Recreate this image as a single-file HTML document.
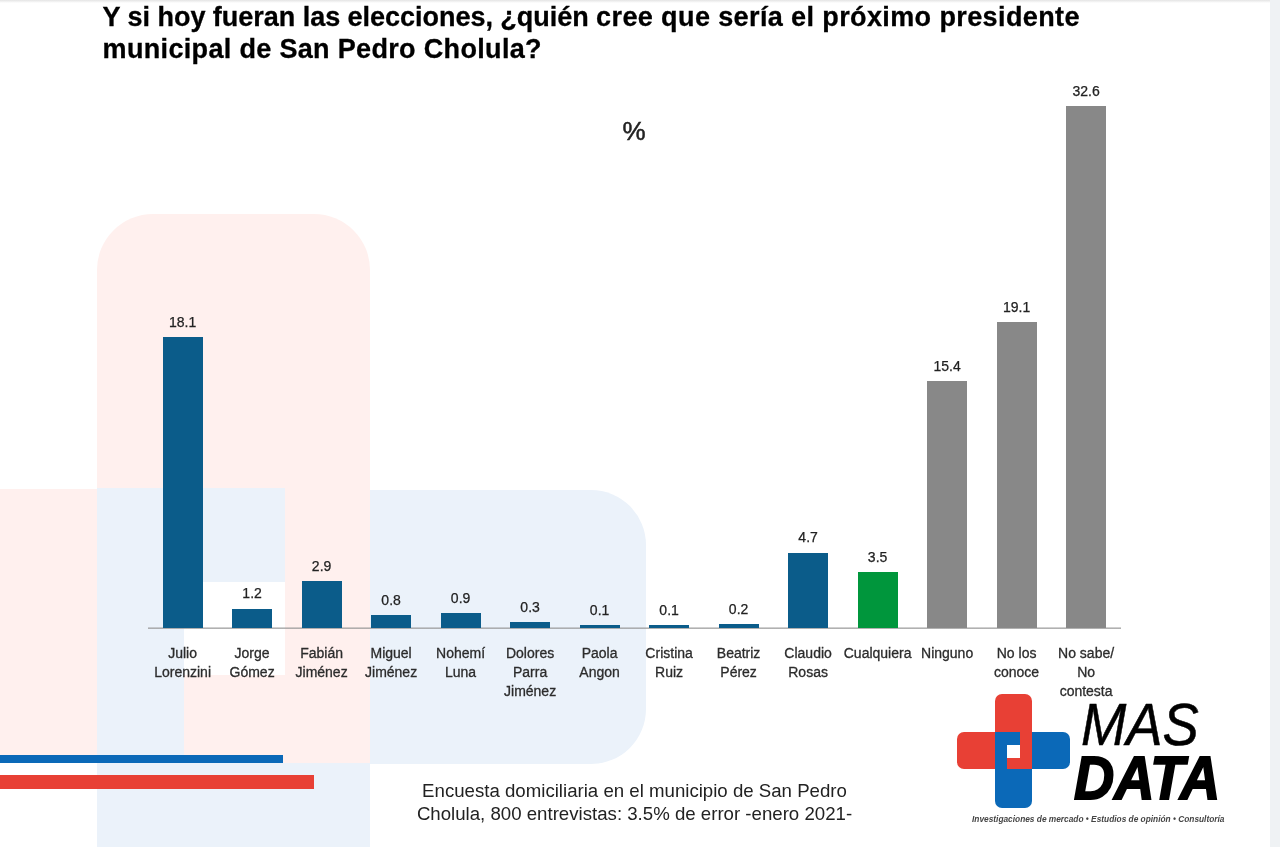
<!DOCTYPE html>
<html lang="es"><head><meta charset="utf-8"><title>Encuesta San Pedro Cholula</title>
<style>
html,body{margin:0;padding:0}
body{width:1280px;height:847px;position:relative;overflow:hidden;background:#fff;font-family:"Liberation Sans",sans-serif;}
div{position:absolute;box-sizing:border-box}
.pk{background:#fff0ee}
.lb{background:#ebf2fa}
.title{left:102.6px;top:2.3px;width:1150px;font-weight:bold;font-size:27px;line-height:31.6px;color:#000;-webkit-text-stroke:0.3px #000;white-space:nowrap;letter-spacing:0.2px}
.pct{left:614px;top:117px;width:40px;text-align:center;font-size:26px;line-height:28px;color:#222;-webkit-text-stroke:0.5px #222}
.bar{width:40px}
.b{background:#0b5c8a}
.g{background:#00963c}
.n{background:#888888}
.val{width:100px;text-align:center;font-size:14px;line-height:16px;color:#222;-webkit-text-stroke:0.25px #222}
.lab{width:100px;text-align:center;top:644px;font-size:14px;line-height:19px;color:#2c2c2c;-webkit-text-stroke:0.3px #2c2c2c}
.axis{left:148px;top:627px;width:973px;height:2px;background:linear-gradient(rgba(150,150,150,.45) 50%,rgba(150,150,150,.75) 50%)}
.foot{left:384.5px;top:780.3px;width:500px;text-align:center;font-size:18.65px;line-height:22.5px;color:#222;white-space:nowrap}
</style></head><body>
<!-- watermark -->
<div style="left:0;top:0;width:1280px;height:3px;background:linear-gradient(#e4e4e4,#fff)"></div>
<div class="pk" style="left:96.5px;top:213.5px;width:273.7px;height:276px;border-radius:56px 56px 0 0"></div>
<div class="pk" style="left:0;top:488.5px;width:96.5px;height:274.5px"></div>
<div class="lb" style="left:369.8px;top:489.5px;width:276px;height:274px;border-radius:0 55px 55px 0"></div>
<div class="lb" style="left:96.5px;top:763px;width:273.5px;height:90px"></div>
<div class="lb" style="left:96.5px;top:488px;width:189px;height:93.5px"></div>
<div class="lb" style="left:96.5px;top:488px;width:87.8px;height:275px"></div>
<div class="pk" style="left:285.3px;top:488px;width:84.5px;height:275px"></div>
<div class="pk" style="left:184.3px;top:675.3px;width:185.5px;height:87.7px"></div>
<div style="left:1269.5px;top:0;width:10.5px;height:847px;background:#eff2f4"></div>
<div style="left:0;top:755px;width:283px;height:8px;background:#0b69b8"></div>
<div style="left:0;top:775px;width:314px;height:14px;background:#e84035"></div>

<div class="title"><span style="letter-spacing:-0.03px">Y si hoy fueran las elecciones, ¿quién </span><span style="letter-spacing:0.39px">cree que sería el próximo presidente</span><br><span style="letter-spacing:0.33px">municipal de San Pedro Cholula?</span></div>
<div class="pct">%</div>
<div class="axis"></div>
<div class="bar b" style="left:162.6px;top:337.1px;height:290.9px"></div>
<div class="val" style="left:132.6px;top:313.9px">18.1</div>
<div class="lab" style="left:132.6px">Julio<br>Lorenzini</div>
<div class="bar b" style="left:232.1px;top:608.6px;height:19.4px"></div>
<div class="val" style="left:202.1px;top:585.4px">1.2</div>
<div class="lab" style="left:202.1px">Jorge<br>Gómez</div>
<div class="bar b" style="left:301.6px;top:581.4px;height:46.6px"></div>
<div class="val" style="left:271.6px;top:558.2px">2.9</div>
<div class="lab" style="left:271.6px">Fabián<br>Jiménez</div>
<div class="bar b" style="left:371.1px;top:615.0px;height:13.0px"></div>
<div class="val" style="left:341.1px;top:591.8px">0.8</div>
<div class="lab" style="left:341.1px">Miguel<br>Jiménez</div>
<div class="bar b" style="left:440.6px;top:613.4px;height:14.6px"></div>
<div class="val" style="left:410.6px;top:590.2px">0.9</div>
<div class="lab" style="left:410.6px">Nohemí<br>Luna</div>
<div class="bar b" style="left:510.1px;top:622.2px;height:5.8px"></div>
<div class="val" style="left:480.1px;top:599.0px">0.3</div>
<div class="lab" style="left:480.1px">Dolores<br>Parra<br>Jiménez</div>
<div class="bar b" style="left:579.6px;top:625.4px;height:2.6px"></div>
<div class="val" style="left:549.6px;top:602.2px">0.1</div>
<div class="lab" style="left:549.6px">Paola<br>Angon</div>
<div class="bar b" style="left:649.1px;top:625.4px;height:2.6px"></div>
<div class="val" style="left:619.1px;top:602.2px">0.1</div>
<div class="lab" style="left:619.1px">Cristina<br>Ruiz</div>
<div class="bar b" style="left:718.6px;top:623.8px;height:4.2px"></div>
<div class="val" style="left:688.6px;top:600.6px">0.2</div>
<div class="lab" style="left:688.6px">Beatriz<br>Pérez</div>
<div class="bar b" style="left:788.1px;top:552.6px;height:75.4px"></div>
<div class="val" style="left:758.1px;top:529.4px">4.7</div>
<div class="lab" style="left:758.1px">Claudio<br>Rosas</div>
<div class="bar g" style="left:857.6px;top:571.8px;height:56.2px"></div>
<div class="val" style="left:827.6px;top:548.6px">3.5</div>
<div class="lab" style="left:827.6px">Cualquiera</div>
<div class="bar n" style="left:927.1px;top:381.4px;height:246.6px"></div>
<div class="val" style="left:897.1px;top:358.2px">15.4</div>
<div class="lab" style="left:897.1px">Ninguno</div>
<div class="bar n" style="left:996.6px;top:322.2px;height:305.8px"></div>
<div class="val" style="left:966.6px;top:299.0px">19.1</div>
<div class="lab" style="left:966.6px">No los<br>conoce</div>
<div class="bar n" style="left:1066.1px;top:106.2px;height:521.8px"></div>
<div class="val" style="left:1036.1px;top:83.0px">32.6</div>
<div class="lab" style="left:1036.1px">No sabe/<br>No<br>contesta</div>
<div class="foot">Encuesta domiciliaria en el municipio de San Pedro<br>Cholula, 800 entrevistas: 3.5% de error -enero 2021-</div>

<!-- logo -->
<div id="logo" style="left:0;top:0">
<div style="left:994.6px;top:694.2px;width:37.2px;height:50px;background:#e84035;border-radius:7px 7px 0 0"></div>
<div style="left:956.6px;top:732.1px;width:50px;height:37.3px;background:#e84035;border-radius:7px 0 0 7px"></div>
<div style="left:1020px;top:732.1px;width:49.8px;height:37.3px;background:#0b69b8;border-radius:0 7px 7px 0"></div>
<div style="left:994.6px;top:757px;width:37.2px;height:50.6px;background:#0b69b8;border-radius:0 0 7px 7px"></div>
<div style="left:994.6px;top:732.1px;width:25.6px;height:12.8px;background:#0b69b8"></div>
<div style="left:994.6px;top:732.1px;width:12px;height:37.3px;background:#0b69b8"></div>
<div style="left:1020.2px;top:732.1px;width:11.6px;height:37.3px;background:#e84035"></div>
<div style="left:1006.5px;top:757.7px;width:25.3px;height:11.7px;background:#e84035"></div>
<div style="left:1006.5px;top:744.8px;width:13.7px;height:12.9px;background:#fff"></div>
<div style="left:1080.5px;top:691.5px;font-size:58.5px;line-height:66px;font-style:italic;color:#000;white-space:nowrap;transform-origin:0 0;transform:scaleX(0.93);-webkit-text-stroke:0.5px #000">MAS</div>
<div style="left:1073.5px;top:742.3px;font-size:62px;line-height:72px;font-style:italic;font-weight:bold;color:#000;white-space:nowrap;transform-origin:0 0;transform:scaleX(0.897);-webkit-text-stroke:2px #000">DATA</div>
<div style="left:972px;top:812.7px;font-size:8.33px;line-height:12px;font-style:italic;font-weight:bold;color:#444;white-space:nowrap">Investigaciones de mercado • Estudios de opinión • Consultoría</div>
</div>
</body></html>
